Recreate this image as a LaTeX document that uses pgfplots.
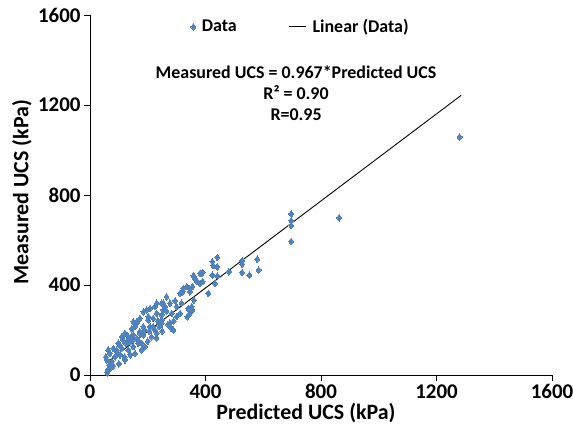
\documentclass[border=0pt]{standalone}
\usepackage{fontspec}
\setmainfont{Carlito}
\usepackage{pgfplots}
\pgfplotsset{compat=1.18}
\definecolor{dblue}{RGB}{79,129,189}
\begin{document}
\begin{tikzpicture}
\begin{axis}[
  scale only axis, width=462bp, height=360bp,
  xmin=0, xmax=1600, ymin=0, ymax=1600,
  axis lines=left, axis line style={-, black, line width=0.9pt},
  xtick={0,400,800,1200,1600}, ytick={0,400,800,1200,1600},
  tick align=outside, major tick length=6bp,
  tick style={black, line width=0.9pt},
  /pgf/number format/assume math mode=true,
  /pgf/number format/1000 sep={},
  tick label style={font=\fontsize{21}{24}\selectfont\bfseries},
  xlabel={Predicted UCS (kPa)}, ylabel={Measured UCS (kPa)},
  label style={font=\fontsize{22}{26}\selectfont\bfseries},
  xlabel style={at={(axis description cs:0.4675,0)}, anchor=base, yshift=-44bp},
  ylabel style={at={([xshift=-68bp]axis description cs:0,0.508)}, anchor=center},
  legend style={draw=none, fill=none, at={(axis description cs:0.2115,0.967)}, anchor=west,
    font=\fontsize{18}{21}\selectfont\bfseries, legend columns=2,
    /tikz/every odd column/.append style={column sep=4bp},
    /tikz/every even column/.append style={column sep=50bp}},
  legend cell align=left,
  clip=false,
]
\addplot[dblue, only marks, mark=diamond*, mark size=3.3bp, mark options={fill=dblue, draw=dblue, line width=0pt}] coordinates {
(60,10) (61,22) (66,44) (58,67) (55,80) (69,96) (63,111) (81,118) (92,111) (87,81)
(75,60) (104,89) (121,67) (98,141) (110,170) (121,185) (115,155) (133,155) (144,170) (133,111)
(150,126) (156,96) (167,141) (179,111) (190,126) (173,185) (190,200) (162,230) (202,244) (219,215)
(213,170) (231,185) (240,215) (248,244) (231,274) (260,304) (248,319) (225,304) (277,319)
(95,100) (105,130) (125,140) (140,150) (150,160) (170,150) (185,178) (150,178) (173,193) (162,163)
(156,215) (185,215) (208,215) (162,237) (150,237) (173,252) (219,252) (202,259) (185,281) (196,289)
(208,296) (248,267) (283,274) (254,289) (300,304) (231,319) (254,319) (265,348) (289,200)
(225,200) (248,230) (277,230)
(312,363) (323,385) (346,370) (360,440) (387,452) (335,393) (344,385) (355,393) (321,370) (360,333)
(352,304) (340,296) (355,289) (346,274) (337,259) (317,319) (312,274)
(381,452) (390,456) (358,441) (364,427) (372,415) (381,407) (390,415) (410,363) (433,407) (424,444)
(441,440) (424,504) (427,486) (441,481) (441,523) (481,459) (527,508) (527,493) (527,456) (552,444)
(579,515) (584,467)
(697,716) (697,686) (697,664) (697,593) (863,699) (1280,1058)
(270,225) (290,240) (300,260) (280,210) (230,165) (250,195) (200,150) (180,140) (140,90) (120,80)
(100,50) (80,40) (70,30) (110,120) (130,175) (145,205) (205,195) (235,240) (265,285) (295,330)
};
\addlegendentry{Data}
\addplot[black, line width=0.9pt] coordinates {(60,58.0) (1285,1242.6)};
\addlegendentry{Linear (Data)}
\node[align=center, font=\fontsize{18}{21}\selectfont\bfseries, anchor=center]
  at (axis description cs:0.446,0.783) {Measured UCS = 0.967*Predicted UCS\\R² = 0.90\\R=0.95};
\coordinate (LL) at (rel axis cs:0,0);
\coordinate (UR) at (rel axis cs:1,1);
\end{axis}
\pgfresetboundingbox
\path ([shift={(-90bp,-63bp)}]LL) rectangle ([shift={(21bp,15bp)}]UR);
\end{tikzpicture}
\end{document}
